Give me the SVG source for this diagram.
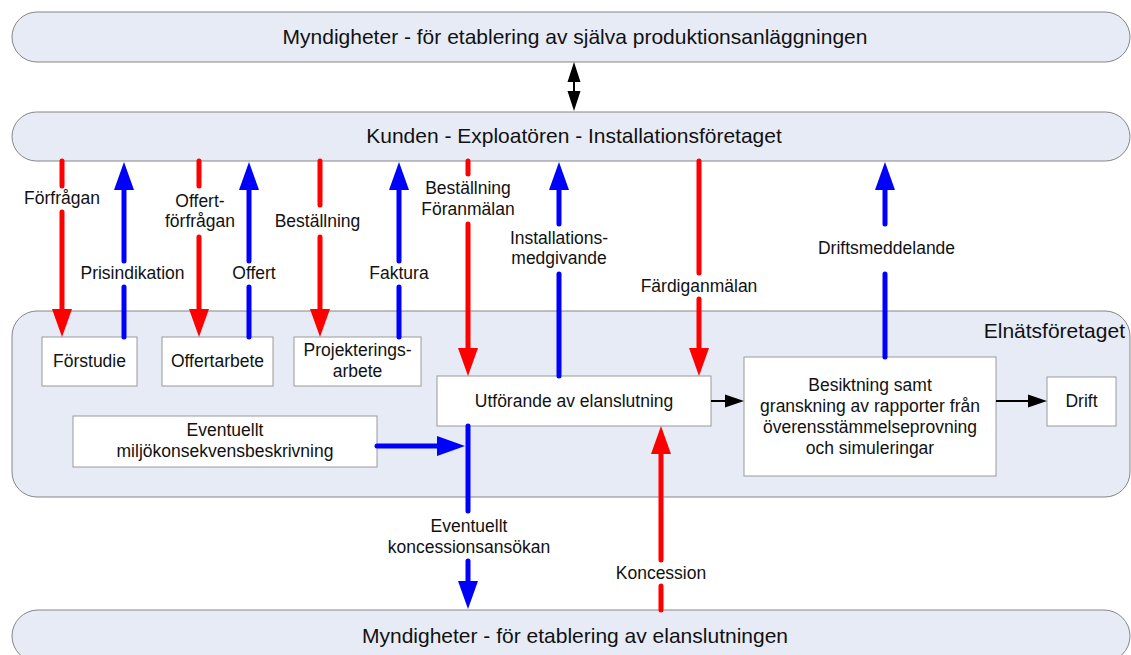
<svg xmlns="http://www.w3.org/2000/svg" width="1131" height="655" viewBox="0 0 1131 655">
<style>
  .band { fill: #E7EBF6; stroke: #858585; stroke-width: 1; }
  .box { fill: #FFFFFF; stroke: #9A9A9A; stroke-width: 1; }
  text { font-family: "Liberation Sans", Arial, sans-serif; fill: #111; }
  .t21 { font-size: 21px; }
  .t17 { font-size: 17.5px; text-anchor: middle; }
  .red { stroke: #FF0000; stroke-width: 5; fill: none; stroke-linecap: round; }
  .blue { stroke: #0000FF; stroke-width: 5; fill: none; stroke-linecap: round; }
  .blk { stroke: #000; stroke-width: 2; fill: none; }
</style>
<defs>
  <marker id="hr" markerUnits="userSpaceOnUse" markerWidth="28" markerHeight="20" refX="0" refY="10" orient="auto" overflow="visible">
    <path d="M0,0 L28,10 L0,20 z" fill="#FF0000"/>
  </marker>
  <marker id="hb" markerUnits="userSpaceOnUse" markerWidth="28" markerHeight="20" refX="0" refY="10" orient="auto" overflow="visible">
    <path d="M0,0 L28,10 L0,20 z" fill="#0000FF"/>
  </marker>
  <marker id="hk" markerUnits="userSpaceOnUse" markerWidth="19" markerHeight="13" refX="0" refY="6.5" orient="auto" overflow="visible">
    <path d="M0,0 L19,6.5 L0,13 z" fill="#000"/>
  </marker>
</defs>

<g id="myndigheter-produktion">
  <rect class="band" x="12" y="12" width="1118" height="50" rx="25" ry="25"/>
  <text class="t21" x="575" y="44" text-anchor="middle">Myndigheter - för etablering av själva produktionsanläggningen</text>
</g>
<g id="kunden">
  <rect class="band" x="12" y="112" width="1118" height="49" rx="24.5" ry="24.5"/>
  <text class="t21" x="574" y="143" text-anchor="middle">Kunden - Exploatören - Installationsföretaget</text>
</g>
<g id="elnatsforetaget">
  <rect class="band" x="12" y="311" width="1118" height="186" rx="25" ry="25"/>
  <text class="t21" x="1125" y="338" text-anchor="end">Elnätsföretaget</text>
</g>
<g id="myndigheter-elanslutning">
  <rect class="band" x="12" y="610" width="1118" height="52" rx="26" ry="26"/>
  <text class="t21" x="575" y="643" text-anchor="middle">Myndigheter - för etablering av elanslutningen</text>
</g>

<g id="forstudie">
  <rect class="box" x="42" y="337" width="95" height="49"/>
  <text class="t17" x="89.5" y="367">Förstudie</text>
</g>
<g id="offertarbete">
  <rect class="box" x="162" y="337" width="111" height="49"/>
  <text class="t17" x="217.5" y="367">Offertarbete</text>
</g>
<g id="projekteringsarbete">
  <rect class="box" x="294" y="337" width="127" height="49"/>
  <text class="t17" x="357.5" y="356">Projekterings-</text>
  <text class="t17" x="357.5" y="377">arbete</text>
</g>
<g id="utforande">
  <rect class="box" x="437" y="376" width="274" height="50"/>
  <text class="t17" x="574" y="407">Utförande av elanslutning</text>
</g>
<g id="besiktning">
  <rect class="box" x="744" y="357" width="252" height="119"/>
  <text class="t17" x="870" y="391">Besiktning samt</text>
  <text class="t17" x="870" y="412">granskning av rapporter från</text>
  <text class="t17" x="870" y="433">överensstämmelseprovning</text>
  <text class="t17" x="870" y="454">och simuleringar</text>
</g>
<g id="drift">
  <rect class="box" x="1047" y="377" width="69" height="49"/>
  <text class="t17" x="1081.5" y="407">Drift</text>
</g>
<g id="miljokonsekvens">
  <rect class="box" x="73" y="416" width="304" height="51"/>
  <text class="t17" x="225" y="436">Eventuellt</text>
  <text class="t17" x="225" y="457">miljökonsekvensbeskrivning</text>
</g>

<g id="connectors">
  <!-- black double arrow -->
  <path class="blk" d="M574,82 V92"/>
  <path d="M574,62 L580.5,82 L567.5,82 z M574,111 L580.5,91 L567.5,91 z" fill="#000"/>
  <!-- red down arrows -->
  <path class="red" d="M62,161 V186 M62,212 V309" marker-end="url(#hr)"/>
  <path class="red" d="M199,161 V186 M199,237 V309" marker-end="url(#hr)"/>
  <path class="red" d="M320,161 V205 M320,237 V309" marker-end="url(#hr)"/>
  <path class="red" d="M468,161 V174 M468,224 V348" marker-end="url(#hr)"/>
  <path class="red" d="M699,161 V273 M699,299 V348" marker-end="url(#hr)"/>
  <path class="red" d="M661,610 V586 M661,560 V454" marker-end="url(#hr)"/>
  <!-- blue up arrows -->
  <path class="blue" d="M124,337 V287 M124,261 V190" marker-end="url(#hb)"/>
  <path class="blue" d="M249,337 V287 M249,261 V190" marker-end="url(#hb)"/>
  <path class="blue" d="M399,337 V287 M399,261 V190" marker-end="url(#hb)"/>
  <path class="blue" d="M559,376 V274 M559,224 V190" marker-end="url(#hb)"/>
  <path class="blue" d="M885,357 V274 M885,224 V190" marker-end="url(#hb)"/>
  <!-- blue to authorities -->
  <path class="blue" d="M468,426 V511 M468,561 V581" marker-end="url(#hb)"/>
  <path class="blue" d="M377,446 H437" marker-end="url(#hb)"/>
  <!-- black process arrows -->
  <path class="blk" d="M711,401 H725" marker-end="url(#hk)"/>
  <path class="blk" d="M996,401 H1028" marker-end="url(#hk)"/>

  <!-- labels -->
  <text class="t17" x="62" y="204">Förfrågan</text>
  <text class="t17" x="132.5" y="279">Prisindikation</text>
  <text class="t17" x="200" y="207">Offert-</text>
  <text class="t17" x="200" y="227">förfrågan</text>
  <text class="t17" x="254" y="279">Offert</text>
  <text class="t17" x="317.5" y="227">Beställning</text>
  <text class="t17" x="399" y="279">Faktura</text>
  <text class="t17" x="468" y="194">Beställning</text>
  <text class="t17" x="468" y="215">Föranmälan</text>
  <text class="t17" x="559" y="244">Installations-</text>
  <text class="t17" x="559" y="264">medgivande</text>
  <text class="t17" x="699" y="292">Färdiganmälan</text>
  <text class="t17" x="886.5" y="254">Driftsmeddelande</text>
  <text class="t17" x="469" y="532">Eventuellt</text>
  <text class="t17" x="469" y="553">koncessionsansökan</text>
  <text class="t17" x="661" y="579">Koncession</text>
</g>
</svg>
